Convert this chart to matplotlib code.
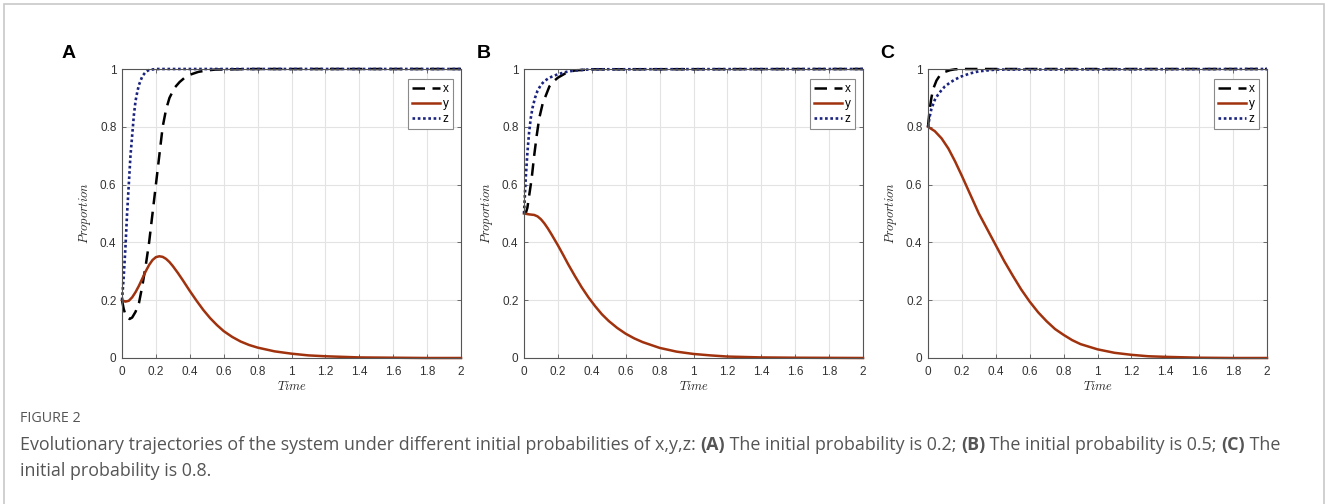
import matplotlib
matplotlib.use('Agg')
import matplotlib.pyplot as plt
from matplotlib.patches import Rectangle

plt.rcParams['mathtext.fontset'] = 'cm'

# ---- data ----
tA_x = [0, 0.01, 0.02, 0.03, 0.045, 0.06, 0.08, 0.1, 0.12, 0.14, 0.16, 0.18, 0.2, 0.22, 0.24, 0.26, 0.28, 0.31, 0.34, 0.37, 0.4, 0.45, 0.5, 0.55, 0.65, 0.8, 2]
xA = [0.2, 0.17, 0.15, 0.14, 0.135, 0.14, 0.16, 0.19, 0.25, 0.32, 0.4, 0.5, 0.6, 0.7, 0.8, 0.86, 0.9, 0.935, 0.955, 0.97, 0.98, 0.99, 0.995, 0.998, 0.999, 1.0, 1.0]
tA_z = [0, 0.01, 0.02, 0.03, 0.04, 0.05, 0.06, 0.07, 0.08, 0.09, 0.1, 0.12, 0.14, 0.16, 0.2, 2]
zA = [0.2, 0.28, 0.38, 0.5, 0.6, 0.7, 0.77, 0.84, 0.89, 0.92, 0.945, 0.975, 0.99, 0.997, 1.0, 1.0]
tA_y = [0, 0.02, 0.04, 0.06, 0.08, 0.1, 0.12, 0.14, 0.16, 0.18, 0.2, 0.22, 0.24, 0.26, 0.28, 0.3, 0.33, 0.36, 0.4, 0.44, 0.48, 0.52, 0.56, 0.6, 0.65, 0.7, 0.75, 0.8, 0.9, 1.0, 1.1, 1.2, 1.4, 1.6, 1.8, 2]
yA = [0.2, 0.195, 0.198, 0.21, 0.228, 0.25, 0.275, 0.3, 0.322, 0.339, 0.349, 0.352, 0.35, 0.343, 0.332, 0.318, 0.294, 0.268, 0.232, 0.198, 0.166, 0.138, 0.114, 0.093, 0.073, 0.057, 0.045, 0.036, 0.023, 0.015, 0.009, 0.006, 0.002, 0.001, 0.0, 0.0]

tB_x = [0, 0.01, 0.02, 0.03, 0.045, 0.06, 0.075, 0.09, 0.11, 0.13, 0.15, 0.18, 0.2, 0.25, 0.3, 0.4, 2]
xB = [0.5, 0.5, 0.52, 0.56, 0.62, 0.7, 0.77, 0.83, 0.88, 0.91, 0.94, 0.96, 0.97, 0.987, 0.995, 0.999, 1.0]
tB_z = [0, 0.01, 0.02, 0.03, 0.04, 0.05, 0.065, 0.08, 0.1, 0.12, 0.15, 0.2, 0.25, 0.3, 0.4, 2]
zB = [0.5, 0.62, 0.71, 0.78, 0.83, 0.865, 0.9, 0.925, 0.945, 0.958, 0.97, 0.982, 0.99, 0.995, 0.999, 1.0]
tB_y = [0, 0.03, 0.06, 0.08, 0.1, 0.12, 0.14, 0.16, 0.18, 0.2, 0.23, 0.26, 0.3, 0.34, 0.38, 0.42, 0.46, 0.5, 0.55, 0.6, 0.65, 0.7, 0.8, 0.9, 1.0, 1.1, 1.2, 1.4, 1.6, 2]
yB = [0.5, 0.497, 0.495, 0.49, 0.48, 0.466, 0.449, 0.43, 0.41, 0.39, 0.358, 0.325, 0.284, 0.245, 0.21, 0.179, 0.151, 0.128, 0.104, 0.084, 0.068, 0.055, 0.035, 0.022, 0.014, 0.009, 0.005, 0.002, 0.001, 0.0]

tC_x = [0, 0.01, 0.02, 0.03, 0.05, 0.07, 0.1, 0.13, 0.16, 0.2, 2]
xC = [0.8, 0.86, 0.9, 0.93, 0.96, 0.978, 0.99, 0.996, 0.999, 1.0, 1.0]
tC_z = [0, 0.01, 0.02, 0.04, 0.06, 0.08, 0.1, 0.13, 0.16, 0.2, 0.25, 0.3, 0.4, 2]
zC = [0.8, 0.835, 0.862, 0.893, 0.912, 0.927, 0.94, 0.953, 0.964, 0.975, 0.985, 0.992, 0.998, 1.0]
tC_y = [0, 0.04, 0.08, 0.12, 0.16, 0.2, 0.25, 0.3, 0.35, 0.4, 0.45, 0.5, 0.55, 0.6, 0.65, 0.7, 0.75, 0.8, 0.85, 0.9, 1.0, 1.1, 1.2, 1.3, 1.4, 1.6, 1.8, 2]
yC = [0.8, 0.785, 0.76, 0.725, 0.68, 0.63, 0.565, 0.5, 0.445, 0.39, 0.335, 0.285, 0.237, 0.195, 0.158, 0.127, 0.1, 0.08, 0.062, 0.048, 0.03, 0.018, 0.011, 0.006, 0.004, 0.001, 0.0, 0.0]

panels = [
    ('A', tA_x, xA, tA_y, yA, tA_z, zA),
    ('B', tB_x, xB, tB_y, yB, tB_z, zB),
    ('C', tC_x, xC, tC_y, yC, tC_z, zC),
]
xticks = [0, 0.2, 0.4, 0.6, 0.8, 1, 1.2, 1.4, 1.6, 1.8, 2]
xticklabels = ['0', '0.2', '0.4', '0.6', '0.8', '1', '1.2', '1.4', '1.6', '1.8', '2']
yticks = [0, 0.2, 0.4, 0.6, 0.8, 1]
yticklabels = ['0', '0.2', '0.4', '0.6', '0.8', '1']

W, H = 1328, 504
fig = plt.figure(figsize=(W / 100, H / 100), dpi=100)

# frame round the figure
fig.add_artist(Rectangle((4 / W, -0.02), (W - 8) / W, 1 - 4 / H + 0.02, transform=fig.transFigure,
                         fill=False, edgecolor='#c8c8c8', linewidth=1.2))

lefts = [122, 524, 928]
label_x = [62, 477, 880]
for (lab, tx, xv, ty, yv, tz, zv), lpx, lbx in zip(panels, lefts, label_x):
    ax = fig.add_axes([lpx / W, 1 - 358 / H, 339 / W, 289 / H])
    ax.plot(tx, xv, color='black', linestyle=(0, (5, 3)), linewidth=1.8, label='x', clip_on=False)
    ax.plot(ty, yv, color='#a0320e', linewidth=1.8, label='y', clip_on=False)
    ax.plot(tz, zv, color='#1a237e', linestyle=(0, (1, 1)), linewidth=1.9, label='z', clip_on=False)
    ax.set_xlim(0, 2)
    ax.set_ylim(0, 1)
    ax.set_xticks(xticks)
    ax.set_xticklabels(xticklabels)
    ax.set_yticks(yticks)
    ax.set_yticklabels(yticklabels)
    ax.grid(True, color='#e3e3e3', linewidth=0.8)
    ax.set_axisbelow(True)
    for s in ax.spines.values():
        s.set_color('#555555')
        s.set_linewidth(0.8)
    ax.tick_params(labelsize=8.5, colors='#555555', labelcolor='#333333', length=3, width=0.6,
                   direction='in', top=True, right=True)
    ax.tick_params(axis='x', pad=6)
    ax.tick_params(axis='y', pad=4)
    ax.set_xlabel(r'$Time$', fontsize=9, color='#262626', labelpad=1)
    ax.set_ylabel(r'$Proportion$', fontsize=9, color='#262626', labelpad=5)
    for t in ax.get_xticklabels() + ax.get_yticklabels():
        t.set_family('Liberation Sans')
    leg = ax.legend(loc='upper right', bbox_to_anchor=(0.975, 0.965), fontsize=8.5, handlelength=2.4,
                    handletextpad=0.2, borderpad=0.35, labelspacing=0.25, borderaxespad=0,
                    fancybox=False, framealpha=1, edgecolor='#8a8a8a')
    leg.get_frame().set_linewidth(0.8)
    for t in leg.get_texts():
        t.set_family('Liberation Sans')
    fig.text(lbx / W, 1 - 53 / H, lab, fontsize=14, fontweight='bold', family='Liberation Sans',
             ha='left', va='center')

# caption
fig.text(20 / W, 1 - 418 / H, 'FIGURE 2', fontsize=10.3, color='#555555', family='Open Sans',
         ha='left', va='center')

segments = [
    ('Evolutionary trajectories of the system under different initial probabilities of x,y,z: ', 'normal'),
    ('(A)', 'bold'), (' The initial probability is 0.2; ', 'normal'),
    ('(B)', 'bold'), (' The initial probability is 0.5; ', 'normal'),
    ('(C)', 'bold'), (' The', 'normal'),
]
fig.canvas.draw()
renderer = fig.canvas.get_renderer()
xpos = 20
for txt, wt in segments:
    t = fig.text(xpos / W, 1 - 445 / H, txt, fontsize=12.9, color='#555555', family='Open Sans',
                 fontweight=wt, ha='left', va='center')
    bb = t.get_window_extent(renderer=renderer)
    xpos += bb.width
fig.text(20 / W, 1 - 471 / H, 'initial probability is 0.8.', fontsize=12.9, color='#555555',
         family='Open Sans', ha='left', va='center')

fig.savefig('out.png', dpi=100)
